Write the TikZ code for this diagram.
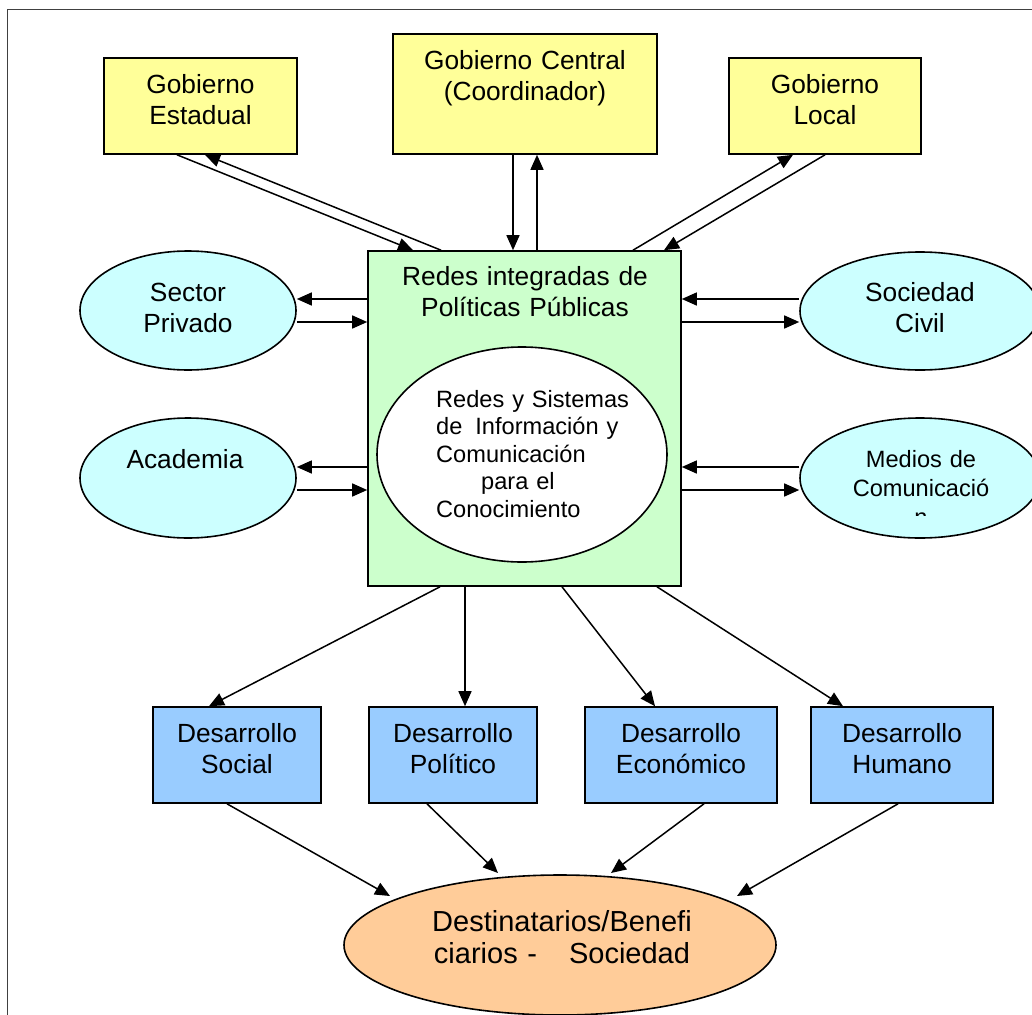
\documentclass[tikz,border=0pt]{standalone}
\usepackage{fontspec}
\setmainfont{Liberation Sans}
\usetikzlibrary{shapes.geometric,arrows.meta,calc}
\definecolor{govyellow}{HTML}{FFFF99}
\definecolor{netgreen}{HTML}{CCFFCC}
\definecolor{actorcyan}{HTML}{CCFFFF}
\definecolor{devblue}{HTML}{99CCFF}
\definecolor{destorange}{HTML}{FFCC99}
\definecolor{framegray}{HTML}{404040}
\begin{document}
\begin{tikzpicture}[x=1pt,y=-1pt,
  box/.style={draw=black, line width=1.6pt, rectangle, inner sep=0pt},
  oval/.style={draw=black, line width=1.6pt, ellipse, inner sep=0pt},
  lbl/.style={inner sep=0pt, anchor=base, align=center, text width=320pt, font=\fontsize{26.3}{31}\selectfont},
  arr/.style={line width=1.5pt, -{Triangle[length=15pt,width=13pt]}}]
\useasboundingbox (0,0) rectangle (1032,1014);
\clip (0,0) rectangle (1032,1014);
\fill[white] (0,0) rectangle (1032,1014);
\draw[framegray, line width=1.3pt] (7.5,9.5) rectangle (1060,1040);

% top row
\node[box, fill=govyellow, minimum width=193pt, minimum height=96pt] (gest) at (200.5,106) {};
\node[box, fill=govyellow, minimum width=264pt, minimum height=120pt] (gcen) at (525,94) {};
\node[box, fill=govyellow, minimum width=192pt, minimum height=96pt] (gloc) at (825,106) {};
% centre
\node[box, fill=netgreen, minimum width=313pt, minimum height=335pt] (green) at (524.5,418.5) {};
\node[oval, fill=white, minimum width=290pt, minimum height=215pt] (inner) at (522,454.5) {};
% sides
\node[oval, fill=actorcyan, minimum width=216pt, minimum height=119pt] (sp) at (188,310.5) {};
\node[oval, fill=actorcyan, minimum width=216pt, minimum height=120pt] (acad) at (188,478) {};
\node[oval, fill=actorcyan, minimum width=240pt, minimum height=118pt] (soc) at (920,311) {};
\node[oval, fill=actorcyan, minimum width=240pt, minimum height=120pt] (med) at (920,478) {};
% development row
\node[box, fill=devblue, minimum width=168pt, minimum height=96pt] (dsoc) at (237,755) {};
\node[box, fill=devblue, minimum width=168pt, minimum height=96pt] (dpol) at (453,755) {};
\node[box, fill=devblue, minimum width=192pt, minimum height=96pt] (deco) at (681,755) {};
\node[box, fill=devblue, minimum width=182pt, minimum height=96pt] (dhum) at (902,755) {};
% destination
\node[oval, fill=destorange, minimum width=432pt, minimum height=140pt] (dest) at (560,945) {};

% connectors: government
\draw[arr] (gest.south -| 177,0) -- (green.north -| 413,0);
\draw[arr] (green.north -| 441,0) -- (gest.south -| 205,0);
\draw[arr] (gcen.south -| 513,0) -- (green.north -| 513,0);
\draw[arr] (green.north -| 537,0) -- (gcen.south -| 537,0);
\draw[arr] (green.north -| 633,0) -- (gloc.south -| 793,0);
\draw[arr] (gloc.south -| 825,0) -- (green.north -| 664,0);
% connectors: sides
\draw[arr] (green.west |- 0,299) -- (sp.east |- 0,299);
\draw[arr] (sp.east |- 0,322) -- (green.west |- 0,322);
\draw[arr] (green.west |- 0,467) -- (acad.east |- 0,467);
\draw[arr] (acad.east |- 0,490) -- (green.west |- 0,490);
\draw[arr] (soc.west |- 0,299) -- (green.east |- 0,299);
\draw[arr] (green.east |- 0,322) -- (soc.west |- 0,322);
\draw[arr] (med.west |- 0,467) -- (green.east |- 0,467);
\draw[arr] (green.east |- 0,490) -- (med.west |- 0,490);
% connectors: development
\draw[arr] (green.south -| 440,0) -- (dsoc.north -| 209,0);
\draw[arr] (green.south -| 465,0) -- (dpol.north -| 465,0);
\draw[arr] (green.south -| 562,0) -- (deco.north -| 655,0);
\draw[arr] (green.south -| 657,0) -- (dhum.north -| 843,0);
% connectors: to destination
\draw[arr] (dsoc.south -| 227,0) -- ($(dest.center)+(-170,-49)$);
\draw[arr] (dpol.south -| 427,0) -- ($(dest.center)+(-62,-72)$);
\draw[arr] (deco.south -| 704,0) -- ($(dest.center)+(51,-72)$);
\draw[arr] (dhum.south -| 898,0) -- ($(dest.center)+(177,-49)$);

% labels
\node[lbl] (gest-t) at (200.5,94) {Gobierno\\Estadual};
\node[lbl] (gcen-t) at (525,70) {Gobierno Central\\(Coordinador)};
\node[lbl] (gloc-t) at (825,94) {Gobierno\\Local};
\node[lbl] (green-t) at (525,285) {Redes integradas de\\Políticas Públicas};
\node[lbl, font=\fontsize{23.6}{27.5}\selectfont, align=left, anchor=base west, text width=240pt] (inner-t) at (436,407)
  {Redes y Sistemas\\de\hspace{13pt}Información y\\Comunicación\\\hspace*{45pt}para el\\Conocimiento};
\node[lbl] (sp-t) at (188,301) {Sector\\Privado};
\node[lbl] (acad-t) at (185,468) {Academia};
\node[lbl] (soc-t) at (920,301) {Sociedad\\Civil};
\begin{scope}
\clip (780,400) rectangle (1032,515);
\node[lbl, font=\fontsize{23.6}{29}\selectfont] (med-t) at (921,467) {Medios de\\Comunicació\\n};
\end{scope}
\node[lbl] (dsoc-t) at (237,742) {Desarrollo\\Social};
\node[lbl] (dpol-t) at (453,742) {Desarrollo\\Político};
\node[lbl] (deco-t) at (681,742) {Desarrollo\\Económico};
\node[lbl] (dhum-t) at (902,742) {Desarrollo\\Humano};
\node[lbl, font=\fontsize{29}{32}\selectfont] (dest-t) at (562,931) {Destinatarios/Benefi\\ciarios -\hspace{32pt}Sociedad};
\end{tikzpicture}
\end{document}
